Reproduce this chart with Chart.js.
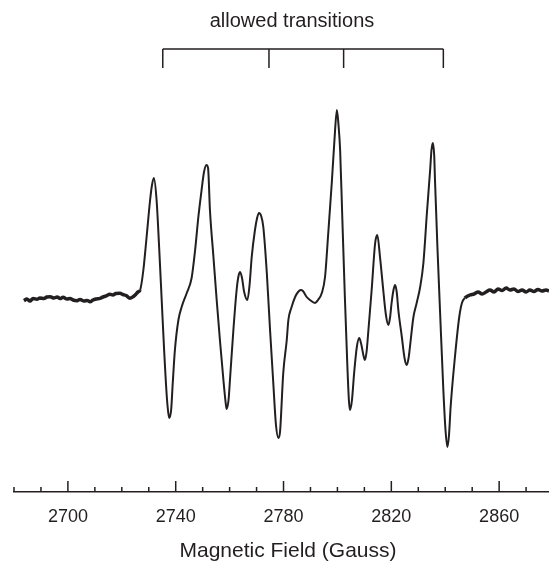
<!DOCTYPE html>
<html>
<head>
<meta charset="utf-8">
<script src="https://cdn.jsdelivr.net/npm/chart.js@4.4.0/dist/chart.umd.min.js"></script>
<style>
  html, body { margin: 0; padding: 0; background: #fff; }
  #wrap { width: 549px; height: 561px; position: relative; }
</style>
</head>
<body>
<div id="wrap"><canvas id="epr"></canvas></div>
<script>
// EPR first-derivative spectrum
// field in Gauss, signal in arbitrary units (baseline ~ 0)
const field = [
  2683.7, 2684.8, 2685.9, 2687.1, 2688.5, 2689.6, 2691.1, 2692.2, 2693.4, 2694.8,
  2696.0, 2697.1, 2698.2, 2699.7, 2700.8, 2701.9, 2703.4, 2704.5, 2706.0, 2707.1,
  2708.2, 2709.3, 2710.4, 2711.9, 2713.0, 2714.1, 2715.6, 2716.7, 2717.8, 2719.3,
  2720.4, 2721.6, 2723.0, 2724.2, 2725.3, 2726.0, 2726.8,
  2728.0, 2729.2, 2730.5, 2731.2, 2731.9, 2732.9, 2733.9, 2734.8, 2735.7, 2736.7,
  2737.2, 2737.6, 2738.3, 2738.9, 2739.7, 2741.0, 2742.2, 2744.1, 2745.9, 2747.2,
  2748.4, 2749.6, 2750.5, 2751.4, 2752.0, 2752.7, 2754.0, 2755.2, 2756.4, 2757.7,
  2758.5, 2758.9, 2759.6, 2760.2, 2761.4, 2762.6, 2763.3, 2763.9, 2764.6, 2765.4,
  2766.6, 2767.4, 2768.2, 2769.4, 2770.2, 2770.9, 2771.7, 2772.5, 2773.8, 2775.0,
  2776.2, 2777.2, 2778.1, 2778.7, 2779.9, 2781.2, 2781.8, 2783.0, 2784.3, 2785.4,
  2786.4, 2787.2, 2788.6, 2789.8, 2791.7, 2792.8, 2794.2, 2795.4, 2796.6, 2797.9,
  2798.9, 2799.8, 2800.4, 2801.0, 2801.8, 2802.8, 2803.7, 2804.3, 2804.7, 2805.4,
  2806.2, 2807.2, 2808.1, 2808.9, 2809.7, 2810.2, 2810.8, 2811.5, 2812.7, 2814.0,
  2814.8, 2815.8, 2817.0, 2818.0, 2818.9, 2819.5, 2820.1, 2820.8, 2821.4, 2822.0,
  2822.6, 2823.9, 2824.9, 2825.7, 2826.4, 2826.9, 2828.2, 2829.4, 2830.7, 2831.9,
  2833.2, 2834.4, 2834.9, 2835.4, 2835.9, 2836.2, 2837.1, 2838.1, 2839.3, 2840.1,
  2840.8, 2841.4, 2842.0, 2843.6, 2845.2, 2846.2, 2847.3, 2849.2,
  2850.7, 2852.2, 2853.7, 2855.1, 2856.6, 2858.1, 2859.6, 2861.1, 2862.6, 2864.0,
  2865.5, 2867.0, 2868.5, 2870.0, 2871.4, 2872.9, 2874.4, 2875.9, 2877.4, 2878.5
];
const signal = [
  -3.7, -2, -4, -1.5, -2.3, -1, -1.5, 0, 0.3, -1,
  0, -1.5, -0.3, -2, -1.5, -3, -3.7, -2.5, -4, -3.5,
  -4.7, -3, -2, -1.3, 0, 1, 2.7, 2, 3.5, 3.7,
  2.5, 1.5, -1.3, 0.3, 3, 5, 7,
  27, 60, 97, 112, 119, 97, 47, -3, -53, -100,
  -115, -121, -113, -86, -53, -23, -10, 4, 19, 47,
  80, 107, 125, 132, 129, 87, 40, -3, -43, -83,
  -105, -112, -103, -80, -33, 7, 21, 25, 19, 5,
  -3, 12, 40, 67, 79, 84, 81, 70, 24, -33,
  -86, -128, -141, -135, -76, -43, -23, -10, 0, 5,
  7, 6, 0, -3, -6, -3, 4, 20, 64, 114,
  157, 187, 172, 147, 80, -3, -70, -105, -113, -103,
  -76, -50, -41, -48, -59, -63, -55, -33, 7, 54,
  62, 40, 7, -18, -28, -21, -6, 7, 12, 5,
  -13, -40, -61, -68, -61, -50, -20, -6, 10, 34,
  84, 127, 147, 154, 142, 117, 50, -16, -93, -133,
  -150, -138, -110, -60, -20, -6, -1, 2,
  3, 5, 3, 5, 7, 5, 8, 6.5, 9, 7,
  8, 5.5, 7, 5, 7, 5.5, 7.5, 6, 7, 6
];

const tickValues = [2680, 2690, 2700, 2710, 2720, 2730, 2740, 2750, 2760, 2770,
                    2780, 2790, 2800, 2810, 2820, 2830, 2840, 2850, 2860, 2870];
const majorTicks = [2700, 2740, 2780, 2820, 2860];
const transitions = [2735.2, 2774.6, 2802.3, 2839.3];
const bracketLabel = 'allowed transitions';
const axisTitle = 'Magnetic Field (Gauss)';

const ink = '#231f20';
const fontFamily = '"Liberation Sans", Arial, Helvetica, sans-serif';

// inward axis ticks, transition bracket and the text labels
const decorations = {
  id: 'decorations',
  afterDraw(chart) {
    const { ctx, chartArea } = chart;
    const x = chart.scales.x;
    const axisY = chartArea.bottom;
    ctx.save();
    ctx.strokeStyle = ink;
    ctx.lineWidth = 1.5;

    ctx.beginPath();
    tickValues.forEach(v => {
      const px = x.getPixelForValue(v);
      const len = majorTicks.includes(v) ? 11 : 5;
      ctx.moveTo(px, axisY);
      ctx.lineTo(px, axisY - len);
    });
    ctx.stroke();

    // bracket over the four allowed transitions
    const top = 49, bottom = 68;
    const first = x.getPixelForValue(transitions[0]);
    const last = x.getPixelForValue(transitions[transitions.length - 1]);
    ctx.beginPath();
    ctx.moveTo(first, top);
    ctx.lineTo(last, top);
    transitions.forEach(v => {
      const px = x.getPixelForValue(v);
      ctx.moveTo(px, top);
      ctx.lineTo(px, bottom);
    });
    ctx.stroke();

    ctx.fillStyle = ink;
    ctx.textAlign = 'center';
    ctx.textBaseline = 'alphabetic';
    ctx.font = '20px ' + fontFamily;
    ctx.fillText(bracketLabel, 292, 27);

    ctx.font = '21px ' + fontFamily;
    ctx.fillText(axisTitle, 288, 557);
    ctx.restore();
  }
};

const isBaseline = (ctx) => {
  const a = ctx.p0.parsed.x, b = ctx.p1.parsed.x;
  return (a < 2727 && b < 2727) || (a > 2847 && b > 2847);
};

new Chart(document.getElementById('epr'), {
  type: 'line',
  data: {
    datasets: [{
      label: 'EPR signal',
      data: field.map((f, i) => ({ x: f, y: signal[i] })),
      borderColor: ink,
      borderWidth: 2,
      pointRadius: 0,
      cubicInterpolationMode: 'monotone',
      fill: false,
      segment: {
        borderWidth: ctx => isBaseline(ctx) ? 3.5 : 2
      }
    }]
  },
  options: {
    responsive: true,
    maintainAspectRatio: false,
    animation: false,
    layout: { padding: { left: 14, right: 0, top: 0, bottom: 0 } },
    plugins: {
      legend: { display: false },
      tooltip: { enabled: false }
    },
    scales: {
      x: {
        type: 'linear',
        min: 2680,
        max: 2878.5,
        grid: { display: true, drawOnChartArea: false, drawTicks: false },
        border: { display: true, color: ink, width: 1.5 },
        ticks: {
          stepSize: 10,
          autoSkip: false,
          maxRotation: 0,
          padding: 14,
          color: ink,
          font: { family: fontFamily, size: 18 },
          callback: (v) => majorTicks.includes(Math.round(v)) ? String(Math.round(v)) : ''
        },
        afterFit: (scale) => {
          scale.height = 69;
          scale.paddingLeft = 0;
          scale.paddingRight = 0;
        }
      },
      y: {
        display: false,
        min: -195,
        max: 297
      }
    }
  },
  plugins: [decorations]
});
</script>
</body>
</html>
